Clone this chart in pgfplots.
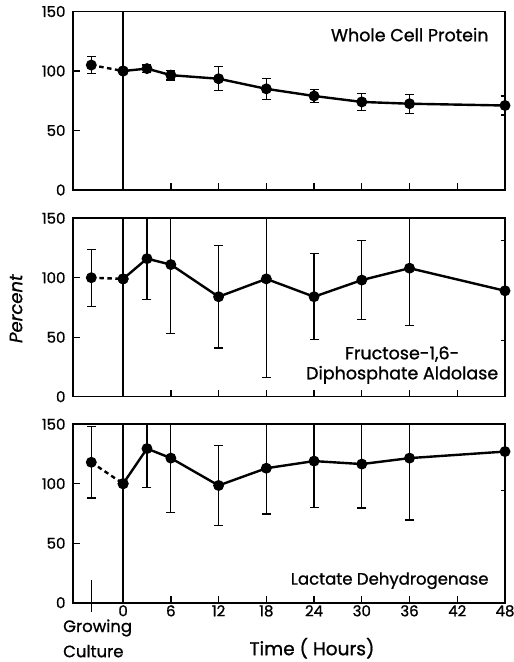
\documentclass[border=0pt]{standalone}
\usepackage{fontspec}
\setmainfont{Poppins}[FakeBold=1]
\usepackage{pgfplots}
\pgfplotsset{compat=1.18}

\newcommand{\tk}{\fontsize{15}{17}\selectfont}
\newcommand{\lab}{\fontsize{16.5}{19}\selectfont}
\newcommand{\labb}{\fontsize{17.5}{20}\selectfont}

\pgfplotsset{
  panel/.style={
    scale only axis, width=432pt, height=178.5pt,
    xmin=-6.3, xmax=48, ymin=0, ymax=150,
    xtick={0,6,...,48}, ytick={0,50,100,150},
    xtick pos=bottom, ytick pos=left, tick align=inside,
    major tick length=7pt,
    axis line style={line width=1.6pt},
    every tick/.style={line width=1.3pt, black},
    yticklabel style={font=\tk, xshift=-4pt},
    xticklabel style={font=\tk, yshift=1pt},
    /pgf/number format/assume math mode=true,
    clip mode=individual,
    anchor=south west,
  },
  dat/.style={
    black, line width=2.4pt, mark=*, mark size=4.2pt,
    /pgfplots/error bars/y dir=both,
    /pgfplots/error bars/y explicit,
    /pgfplots/error bars/error bar style={line width=1.2pt, solid},
    /pgfplots/error bars/error mark options={rotate=90, black, solid, line width=1.2pt, mark size=4.5pt},
  },
  gc/.style={dat, dash pattern=on 4.5pt off 3.5pt, mark options={solid}},
}

\begin{document}
\begin{tikzpicture}
\useasboundingbox (-73pt,-59.3pt) rectangle (441pt,602.7pt);

% top panel
\begin{axis}[panel, at={(0pt,412.7pt)}, xticklabels={}]
\draw[line width=1.3pt] (axis cs:0,0) -- (axis cs:0,150);
\addplot[gc] coordinates {(-4,105) +- (0,7) (0,100) +- (0,0)};
\addplot[dat] coordinates {
  (0,100) +- (0,0) (3,102) +- (0,3) (6,96.5) +- (0,4) (12,93.5) +- (0,10)
  (18,85) +- (0,9) (24,79) +- (0,5.5) (30,74) +- (0,7) (36,72.5) +- (0,8)
  (48,71) +- (0,8)};
\node[anchor=east, font=\labb] at (rel axis cs:0.97,0.87) {Whole Cell Protein};
\end{axis}

% middle panel
\begin{axis}[panel, at={(0pt,206pt)}, xticklabels={}]
\draw[line width=1.3pt] (axis cs:0,0) -- (axis cs:0,150);
\addplot[gc] coordinates {(-4,100) +- (0,24) (0,99) +- (0,0)};
\addplot[dat] coordinates {
  (0,99) +- (0,0) (3,116) +- (0,34) (6,111) +- (0,58) (12,84) +- (0,43)
  (18,99) +- (0,83) (24,84) +- (0,36) (30,98) +- (0,33) (36,108) +- (0,48)
  (48,89) +- (0,42)};
\node[align=center, font=\labb, inner sep=0pt] at (rel axis cs:0.762,0.177)
  {Fructose-1,6-\\Diphosphate Aldolase};
\end{axis}

% bottom panel
\begin{axis}[panel, at={(0pt,0pt)}]
\draw[line width=1.3pt] (axis cs:0,0) -- (axis cs:0,150);
\draw[line width=1.3pt] (axis cs:-4,19) -- ([yshift=-9pt]axis cs:-4,0);
\addplot[gc] coordinates {(-4,118) +- (0,30) (0,100) +- (0,0)};
\addplot[dat] coordinates {
  (0,100) +- (0,0) (3,129.5) +- (0,33) (6,121.5) +- (0,46) (12,98.5) +- (0,33.5)
  (18,113) +- (0,38.5) (24,119) +- (0,39) (30,116.5) +- (0,37) (36,121.5) +- (0,52)
  (48,127) +- (0,32.5)};
\node[anchor=east, font=\lab] at (rel axis cs:0.97,0.123) {Lactate Dehydrogenase};
\end{axis}

\node[rotate=90, font=\fontsize{18}{20}\selectfont\itshape] at (-57pt,294pt) {Percent};
\node[anchor=base west, font=\lab, inner sep=0pt] at (-10pt,-29.3pt) {Growing};
\node[anchor=base west, font=\lab, inner sep=0pt] at (-10pt,-54.5pt) {Culture};
\node[anchor=base, font=\fontsize{18.5}{21}\selectfont, inner sep=0pt] at (239pt,-52.5pt) {Time ( Hours)};
\end{tikzpicture}
\end{document}
